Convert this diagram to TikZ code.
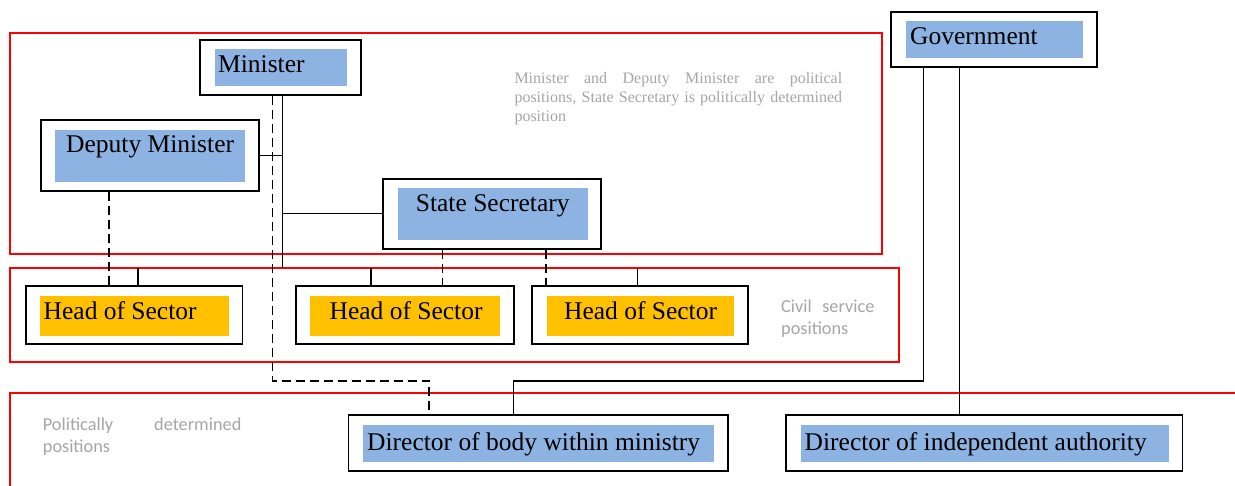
\documentclass[tikz,border=0pt]{standalone}
\usepackage{fontspec}
\setmainfont{Liberation Serif}
\newfontfamily\calib{Carlito}
\usetikzlibrary{fit}
\setlength{\parindent}{0pt}
\definecolor{boxblue}{HTML}{8DB3E2}
\definecolor{sectorgold}{HTML}{FFC000}
\definecolor{framered}{HTML}{FF0000}
\definecolor{notegray}{HTML}{A6A6A6}
\begin{document}
\begin{tikzpicture}[x=1pt,y=-1pt,
  frame/.style={draw=framered, line width=2pt},
  box/.style={draw=black, line width=1.8pt, inner sep=0pt},
  bluefill/.style={fill=boxblue, inner sep=0pt},
  goldfill/.style={fill=sectorgold, inner sep=0pt},
  lbl/.style={font=\fontsize{25.5}{30}\selectfont, inner sep=0pt, anchor=base west},
  conn/.style={draw=black, line width=1.3pt},
  dashconn/.style={draw=black, line width=1.3pt, dash pattern=on 9pt off 5pt},
  note/.style={text=notegray, inner sep=0pt, anchor=base west}
]
\useasboundingbox (0,0) rectangle (1235,486);
\fill[white] (0,0) rectangle (1235,486);

% ---- boxes ----
\node[box, fit={(200.3,40) (360.7,95.3)}] (min) {};
\node[bluefill, fit={(215,49.3) (346.7,85.7)}] (min-f) {};
\node[lbl] (min-t) at (218,72.7) {Minister};

\node[box, fit={(41,120) (259,190.7)}] (dep) {};
\node[bluefill, fit={(55,130) (245,181.7)}] (dep-f) {};
\node[lbl] (dep-t) at (66,153) {Deputy Minister};

\node[box, fit={(383.3,179) (601,248.7)}] (ss) {};
\node[bluefill, fit={(398,188) (588,239.7)}] (ss-f) {};
\node[lbl] (ss-t) at (415.7,211.7) {State Secretary};

\node[box, fit={(891.3,11.7) (1097,67)}] (gov) {};
\node[bluefill, fit={(906,21) (1082.7,57.7)}] (gov-f) {};
\node[lbl] (gov-t) at (910,45) {Government};

\node[box, fit={(25.7,286) (242.4,344)}] (hos1) {};
\node[goldfill, fit={(40,296) (229,336)}] (hos1-f) {};
\node[lbl] (hos1-t) at (43.5,320) {Head of Sector};

\node[box, fit={(296.2,286) (513.6,344)}] (hos2) {};
\node[goldfill, fit={(310.4,296) (500.2,336)}] (hos2-f) {};
\node[lbl] (hos2-t) at (329.4,320) {Head of Sector};

\node[box, fit={(532.2,286) (748.2,344)}] (hos3) {};
\node[goldfill, fit={(546.9,296) (734,336)}] (hos3-f) {};
\node[lbl] (hos3-t) at (563.9,320) {Head of Sector};

\node[box, fit={(348.4,415.3) (728,471)}] (dbody) {};
\node[bluefill, fit={(363,425) (713.8,461.7)}] (dbody-f) {};
\node[lbl] (dbody-t) at (367,450) {Director of body within ministry};

\node[box, fit={(786.3,415.3) (1182.4,471)}] (dind) {};
\node[bluefill, fit={(800.9,425) (1169,461.7)}] (dind-f) {};
\node[lbl] (dind-t) at (804.5,450) {Director of independent authority};

% ---- notes ----
\node[note] (note1) at (514.3,83.3) {\parbox[t]{327.7pt}{\fontsize{16}{19}\selectfont Minister and Deputy Minister are political\linebreak positions, State Secretary is politically determined\linebreak position}};
\node[note] (note2) at (781,312.3) {\parbox[t]{93.2pt}{\calib\fontsize{18.3}{22.7}\selectfont Civil service\linebreak positions}};
\node[note] (note3) at (42.7,430.7) {\parbox[t]{198.5pt}{\calib\fontsize{18.3}{22}\selectfont Politically determined\linebreak positions}};

% ---- coordinates ----
\coordinate (busL) at (138,268.3);
\coordinate (busC) at (370.9,268.3);
\coordinate (busR) at (637.7,268.3);
\coordinate (busM) at (282.7,268.3);
\coordinate (dashCorner) at (272.3,381);
\coordinate (dashEnd) at (429,381);
\coordinate (govA) at (923.3,381);
\coordinate (govEnd) at (513.6,381);
\coordinate (govB) at (959.3,0);
\coordinate (depDash) at (109,0);
\coordinate (ssDashA) at (442.3,0);
\coordinate (ssDashB) at (546,0);

% bus under the red frame
\draw[conn] (busL) -- (busR);

% ---- red frames ----
\draw[frame] (10,32.7) rectangle (882.3,254.3);
\draw[frame] (10,268.3) rectangle (898.5,361.7);
\draw[frame] (10,500) -- (10,393.3) -- (1245,393.3);

% ---- connectors ----
\draw[conn] (min.south -| busM) -- (busM);
\draw[conn] (dep.east) -- (dep.east -| busM);
\draw[conn] (ss.west) -- (ss.west -| busM);
\draw[conn] (busL) -- (busL |- hos1.north);
\draw[conn] (busC) -- (busC |- hos2.north);
\draw[conn] (busR) -- (busR |- hos3.north);
\draw[dashconn] (dep.south -| depDash) -- (hos1.north -| depDash);
\draw[dashconn] (ss.south -| ssDashA) -- (hos2.north -| ssDashA);
\draw[dashconn] (ss.south -| ssDashB) -- (hos3.north -| ssDashB);
\draw[dashconn] (min.south -| dashCorner) -- (dashCorner) -- (dashEnd) -- (dashEnd |- dbody.north);
\draw[conn] (gov.south -| govA) -- (govA) -- (govEnd) -- (govEnd |- dbody.north);
\draw[conn] (gov.south -| govB) -- (dind.north -| govB);
\end{tikzpicture}
\end{document}
